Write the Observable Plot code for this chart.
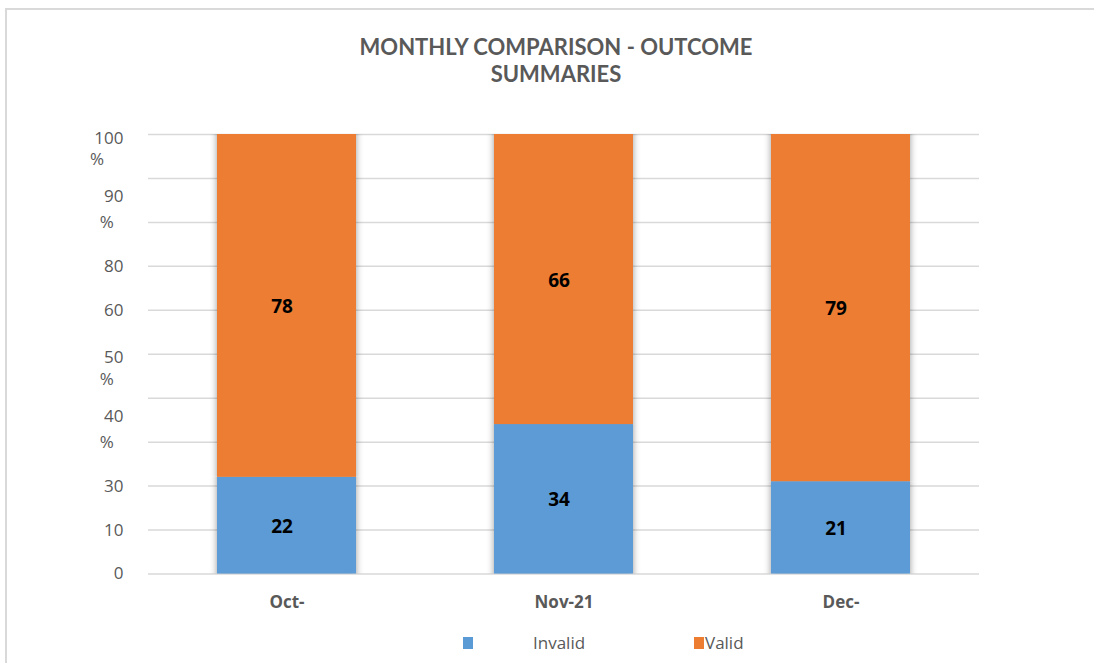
<!DOCTYPE html>
<html><head><meta charset="utf-8">
<script src="https://cdn.jsdelivr.net/npm/d3@7"></script>
<script src="https://cdn.jsdelivr.net/npm/@observablehq/plot@0.6"></script>
<style>
body{margin:0;background:#fff;font-family:"Open Sans",sans-serif;}
#wrap{position:relative;width:1094px;height:663px;overflow:hidden;background:#fff;}
#frame{position:absolute;left:5px;top:8px;width:1200px;height:700px;border-left:2px solid #d9d9d9;border-top:2px solid #d9d9d9;}
.tl{position:absolute;left:0;width:1112px;text-align:center;font-family:Lato,"Open Sans",sans-serif;font-weight:700;font-size:22px;color:#595959;line-height:26px;height:26px;}
#chart{position:absolute;left:0;top:100px;}
.lg{position:absolute;top:631px;font-size:17px;color:#595959;line-height:24px;}
.sw{position:absolute;top:637px;width:10px;height:12px;}
</style></head>
<body>
<div id="wrap">
  <div id="frame"></div>
  <div id="title"></div>
  <div id="chart"></div>
  <div id="legend"></div>
</div>
<script>
const titleLines = ["MONTHLY COMPARISON - OUTCOME", "SUMMARIES"];
const months = ["Oct-", "Nov-21", "Dec-"];
const seriesNames = ["Invalid", "Valid"];
const invalidValues = [22, 34, 21];
const validValues = [78, 66, 79];
const seriesColors = ["#5B9BD5", "#ED7D31"];
const gridTicks = [0, 10, 20, 30, 40, 50, 60, 70, 80, 90, 100];
// y tick labels as they appear (wrapped percent labels)
const yLabelValues = [0, 10, 20, 30, 50, 60, 70, 80, 100];
const yLabelTexts = ["0", "10", "30", "40\n%", "50\n%", "60", "80", "90\n%", "100\n%"];
const yLabelHang = ["mid", "mid", "mid", "bottom", "top", "mid", "mid", "bottom", "top"];

const titleEl = document.getElementById("title");
titleLines.forEach((line, i) => {
  const d = document.createElement("div");
  d.className = "tl"; d.style.top = (34 + i * 26.5) + "px"; d.textContent = line;
  titleEl.appendChild(d);
});

const table = [];
seriesNames.forEach((s, si) => {
  const vals = si === 0 ? invalidValues : validValues;
  months.forEach((m, i) => table.push({month: m, series: s, value: vals[i]}));
});

const ylab = yLabelValues.map((v, i) => {
  const parts = yLabelTexts[i].split("\n");
  let t = parts[0];
  if (parts.length > 1) t += "\n" + parts[1] + "\u2007".repeat(parts[0].length - 1);
  return {v, t, hang: yLabelHang[i]};
});

const txtStyle = {fill: "#595959", fontSize: 17, textAnchor: "end", frameAnchor: "left", dx: -25, fontFamily: "Open Sans"};

const chart = Plot.plot({
  width: 1094,
  height: 520,
  marginLeft: 148,
  marginRight: 115,
  marginTop: 34,
  marginBottom: 46.5,
  style: {fontFamily: "Open Sans", background: "transparent"},
  x: {domain: months, paddingInner: 0.5, paddingOuter: 0.25, axis: null, label: null},
  y: {domain: [0, 100], axis: null, label: null},
  color: {domain: seriesNames, range: seriesColors},
  marks: [
    Plot.gridY(gridTicks, {stroke: "#d9d9d9", strokeOpacity: 1, strokeWidth: 1.5}),
    Plot.barY(table, {x: "month", y: "value", fill: "series", z: "series"}),
    Plot.text(table, Plot.stackY({x: "month", y: "value", z: "series", text: d => String(d.value), fill: "#000", fontSize: 19, fontWeight: 700, dx: -5, dy: 1})),
    Plot.axisX({tickSize: 0, tickPadding: 22, fontSize: 17, fontWeight: 700, fill: "#595959", label: null}),
    Plot.text(ylab.filter(d => d.hang === "mid"), {y: "v", text: "t", ...txtStyle}),
    Plot.text(ylab.filter(d => d.hang === "top"), {y: "v", text: "t", lineAnchor: "top", lineHeight: 1.25, dy: -6, ...txtStyle}),
    Plot.text(ylab.filter(d => d.hang === "bottom"), {y: "v", text: "t", lineAnchor: "bottom", lineHeight: 1.55, dy: 6, ...txtStyle})
  ]
});

// soft shadow around bars
const ns = "http://www.w3.org/2000/svg";
const defs = document.createElementNS(ns, "defs");
defs.innerHTML = '<filter id="bsh" x="-10%" y="-5%" width="120%" height="110%"><feDropShadow dx="0" dy="0" stdDeviation="3.5 0.3" flood-color="#000" flood-opacity="0.4"/></filter>';
chart.insertBefore(defs, chart.firstChild);
const barG = chart.querySelector('g[aria-label="bar"]');
if (barG) barG.setAttribute("filter", "url(#bsh)");
document.getElementById("chart").appendChild(chart);

// legend
const lg = document.getElementById("legend");
const swX = [463, 694];
const txtX = [533, 705];
seriesNames.forEach((s, i) => {
  const sw = document.createElement("div");
  sw.className = "sw"; sw.style.left = swX[i] + "px"; sw.style.background = seriesColors[i];
  lg.appendChild(sw);
  const t = document.createElement("div");
  t.className = "lg"; t.style.left = txtX[i] + "px"; t.textContent = s;
  lg.appendChild(t);
});
</script>
</body></html>
